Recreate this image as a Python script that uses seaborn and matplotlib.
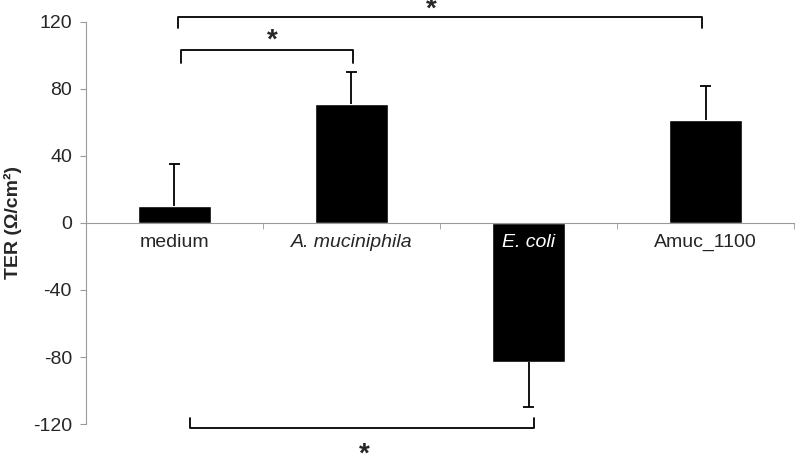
import numpy as np
import pandas as pd
import seaborn as sns
import matplotlib.pyplot as plt

groups = ["medium", "A. muciniphila", "E. coli", "Amuc_1100"]
ter = [10, 71, -83, 61.5]
sd = [25, 19, 27, 20]

sns.set_style("white")
plt.rcParams["font.family"] = ["Liberation Sans", "DejaVu Sans"]

df = pd.DataFrame({"group": groups, "ter": ter})

fig = plt.figure(figsize=(7.95, 4.55), dpi=100)
ax = fig.add_axes([0.108, 0.068, 0.891, 0.884])

sns.barplot(data=df, x="group", y="ter", color="black", width=0.41,
            saturation=1, ax=ax, errorbar=None)

# one-sided error bars, cap only on the far end
xs = np.arange(len(groups))
ends = [v + e if v >= 0 else v - e for v, e in zip(ter, sd)]
ax.vlines(xs, ter, ends, color="black", lw=1.3, zorder=3)
ax.hlines(ends, xs - 0.03, xs + 0.03, color="black", lw=1.3, zorder=3)

ax.set_xlim(-0.5, 3.5)
ax.set_ylim(-120, 120)
ax.set_yticks([-120, -80, -40, 0, 40, 80, 120])
ax.set_yticklabels(["-120", "-80", "-40", "0", "40", "80", "120"])
ax.set_ylabel("TER (\u03a9/cm\u00b2)", fontsize=14, fontweight="bold", labelpad=8)
ax.set_xlabel("")
ax.set_axisbelow(False)

gray = "#9a9a9a"
for s in ["top", "right"]:
    ax.spines[s].set_visible(False)
ax.spines["left"].set_color(gray)
ax.spines["bottom"].set_color(gray)
ax.spines["bottom"].set_position(("data", 0))
ax.tick_params(axis="y", length=4, color=gray, labelsize=14, left=True, pad=6)
ax.tick_params(axis="x", which="major", length=0, labelsize=14, pad=8)
ax.set_xticks(np.arange(-0.5, 4, 1), minor=True)
ax.tick_params(axis="x", which="minor", length=4, color=gray, bottom=True)

labs = ax.get_xticklabels()
labs[1].set_style("italic")
labs[2].set_style("italic")
labs[2].set_color("white")

# significance brackets
kw = dict(color="black", lw=1.3, clip_on=False)
star = dict(ha="center", va="center", fontsize=20, fontweight="bold", clip_on=False)
ax.plot([0.02, 0.02, 2.98, 2.98], [116.5, 123, 123, 116.5], **kw)
ax.text(1.45, 127.5, "*", **star)
ax.plot([0.04, 0.04, 1.01, 1.01], [95.5, 103, 103, 95.5], **kw)
ax.text(0.55, 108.8, "*", **star)
ax.plot([0.09, 0.09, 2.03, 2.03], [-116.5, -122.5, -122.5, -116.5], **kw)
ax.text(1.07, -138.3, "*", **star)

fig.savefig("out.png", dpi=100)
